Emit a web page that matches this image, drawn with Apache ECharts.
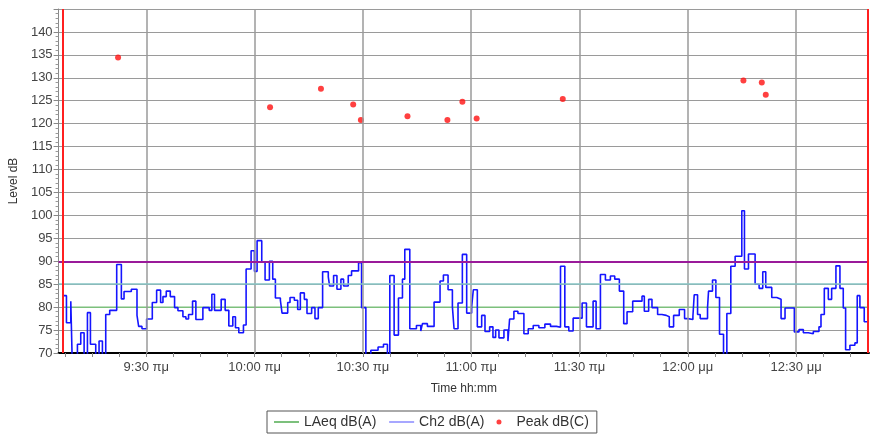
<!DOCTYPE html>
<html>
<head>
<meta charset="utf-8">
<script src="https://cdn.jsdelivr.net/npm/echarts@6/dist/echarts.min.js"></script>
<style>
  html, body { margin: 0; padding: 0; background: #fff; }
  #chart { width: 871px; height: 436px; }
</style>
</head>
<body>
<div id="chart"></div>
<script>
// Times are minutes after 09:00; each Ch2 level holds until the next time.
const ch2Minutes = [6.96, 7.88, 9.08, 9.54, 10.92, 11.84, 12.77, 13.69, 14.52, 15.99, 16.91, 17.84, 18.76, 19.86, 21.8, 23.09, 23.83, 25.85, 27.42, 27.88, 28.8, 30.09, 31.66, 32.86, 33.96, 34.61, 35.53, 36.64, 37.83, 38.76, 40.14, 40.97, 41.7, 42.81, 43.73, 45.67, 47.42, 48.16, 48.89, 50.74, 51.84, 52.86, 53.96, 54.7, 55.62, 56.91, 57.65, 59.03, 59.95, 60.69, 61.98, 62.9, 64.1, 65.02, 65.76, 67.14, 67.6, 69.17, 69.81, 71.01, 71.93, 72.67, 73.77, 74.51, 75.8, 76.72, 77.64, 78.84, 80.41, 80.78, 81.88, 82.81, 83.91, 84.65, 85.94, 86.86, 88.8, 89.63, 90.82, 92.2, 94.2, 95.7, 96.8, 97.46, 98.65, 99.85, 100.96, 101.6, 102.99, 104.83, 106.03, 106.49, 107.87, 109.72, 111.37, 112.3, 113.59, 114.79, 115.25, 116.35, 117.55, 118.75, 120.13, 120.59, 121.7, 122.9, 123.82, 125.11, 126.03, 126.77, 127.69, 129.07, 130.18, 130.64, 131.83, 132.94, 134.6, 135.8, 137.18, 138.75, 140.41, 141.97, 143.63, 144.74, 145.94, 147.04, 148.24, 150.73, 151.93, 153.77, 154.6, 155.8, 157.18, 158.56, 159.76, 161.05, 162.25, 163.17, 164.74, 167.32, 167.96, 169.16, 170.08, 171.64, 172.84, 174.04, 174.87, 176.07, 177.64, 179.11, 180.03, 181.42, 181.78, 182.71, 183.44, 185.47, 185.75, 186.85, 187.78, 188.79, 189.9, 190.82, 191.92, 193.12, 194.96, 195.7, 196.81, 198.65, 199.76, 200.77, 201.6, 203.26, 204.64, 205.84, 206.94, 209.52, 210.81, 212.01, 213.39, 214.77, 216.34, 216.9, 217.82, 218.93, 219.85, 221.04, 222.15, 223.07, 223.72, 224.91, 226.29, 226.94, 227.68, 228.88, 229.97];
const ch2Level = [82.5, 76.6, 81.3, 66, 71.9, 74.4, 66, 78.8, 71.9, 66, 72.6, 66, 78.4, 79.3, 89.3, 81.8, 83.4, 83.9, 78.2, 75.8, 75.3, 77.4, 81, 83.7, 81, 82.3, 83.5, 82.3, 79.9, 79.2, 77.9, 77.4, 78.4, 81.3, 77.3, 79.9, 79.3, 82.8, 79.3, 81.7, 79.3, 75.9, 77.9, 75.5, 74.4, 76.1, 88.3, 92.3, 87.8, 94.5, 89.9, 85.9, 90, 86.1, 82, 81.5, 78.7, 81, 82.1, 81.5, 79.5, 83.1, 81.7, 78.6, 79.9, 77.5, 79.9, 87.7, 86.6, 84.6, 86.9, 83.9, 86.1, 84.6, 86.9, 87.9, 89.7, 79.9, 66, 70.6, 71.3, 71.9, 66, 86.9, 73.9, 82, 86.1, 92.6, 75.3, 76, 74.8, 76.4, 75.8, 81.1, 85.7, 87, 83.8, 80.1, 75.3, 80.9, 91.5, 78.7, 80.1, 83.8, 75.7, 78.2, 74.7, 75.7, 73.4, 75, 73.3, 75, 72.6, 77.4, 79.1, 78.6, 74.2, 75.3, 76, 75.5, 76.3, 75.8, 75.6, 88.9, 75.7, 74.8, 77.6, 80.9, 75.7, 81.3, 75.3, 87.1, 85.9, 86.8, 86.1, 83.5, 76.4, 79, 81.3, 82.4, 79.1, 81.7, 79.9, 78.4, 78.2, 77.9, 75.7, 78.2, 79.5, 77.5, 77.3, 78, 82.7, 78.4, 77.5, 79.9, 83.5, 85.9, 82.1, 74.1, 66, 78.6, 88.9, 91.1, 101, 88.3, 91.6, 85, 84.1, 87.7, 84.3, 82.1, 81.7, 77.5, 79.8, 74.6, 75.1, 74.4, 74.2, 74.7, 75.7, 78.4, 84.1, 81.7, 84.1, 89, 84.1, 79.8, 70.7, 71.7, 72.2, 82.5, 79.9, 76.8, 76.8];

const peakMinutes = [22.18, 64.28, 78.38, 87.31, 89.44, 102.35, 113.41, 117.56, 121.51, 145.37, 195.41, 200.5, 201.6];
const peakLevel = [134.4, 123.6, 127.6, 124.2, 120.8, 121.6, 120.8, 124.8, 121.1, 125.4, 129.4, 129.0, 126.3];

const laeqLevel = 80;          // overall LAeq dB(A)
const limitLevels = [85, 90];   // reference limit lines
const runStart = 6.78;          // measurement start (minutes after 09:00)
const runEnd = 229.97;          // measurement end
const xLabelMinutes = [30, 60, 90, 120, 150, 180, 210];
const xTickMinutes = [7.5, 15, 22.5, 30, 37.5, 45, 52.5, 60, 67.5, 75, 82.5, 90, 97.5, 105, 112.5, 120, 127.5, 135, 142.5, 150, 157.5, 165, 172.5, 180, 187.5, 195, 202.5, 210, 217.5, 225];

function clockLabel(t) {
  const total = Math.round(9 * 60 + t);
  const h = Math.floor(total / 60);
  const m = total % 60;
  const suffix = h >= 12 ? 'μμ' : 'πμ';
  const hh = h > 12 ? h - 12 : h;
  return hh + ':' + (m < 10 ? '0' : '') + m + ' ' + suffix;
}

const ch2Data = ch2Minutes.map((t, i) => [t, ch2Level[i]]);
const peakData = peakMinutes.map((t, i) => [t, peakLevel[i]]);
const laeqData = [[runStart, laeqLevel], [runEnd, laeqLevel]];

const FONT = 'Liberation Sans, Arial, sans-serif';
const chart = echarts.init(document.getElementById('chart'), null, { renderer: 'canvas' });

// line-only legend keys: hide the marker that line series add to their icon
const plainLineKey = { opacity: 0, color: 'transparent', borderWidth: 0 };

chart.setOption({
  animation: false,
  backgroundColor: '#ffffff',
  grid: { left: 57, right: 2, top: 9, bottom: 83, containLabel: false },
  xAxis: {
    type: 'value',
    min: 5.7,
    max: 230.2,
    name: 'Time hh:mm',
    nameLocation: 'middle',
    nameGap: 30,
    nameTextStyle: { fontFamily: FONT, fontSize: 12, color: '#333' },
    axisLine: { show: true, onZero: false, lineStyle: { color: '#000', width: 2 } },
    axisTick: { show: true, customValues: xTickMinutes, length: 4, lineStyle: { color: '#888' } },
    axisLabel: {
      customValues: xLabelMinutes,
      formatter: v => clockLabel(v),
      fontFamily: FONT, fontSize: 13, color: '#444', margin: 8
    },
    splitLine: { show: false }
  },
  yAxis: {
    type: 'value',
    min: 70,
    max: 145,
    interval: 5,
    name: 'Level dB',
    nameLocation: 'middle',
    nameGap: 38,
    nameTextStyle: { fontFamily: FONT, fontSize: 12, color: '#333' },
    axisLine: { show: true, lineStyle: { color: '#888', width: 1 } },
    axisTick: { show: true, length: 5, lineStyle: { color: '#888' } },
    minorTick: { show: true, splitNumber: 5, length: 3, lineStyle: { color: '#999' } },
    axisLabel: {
      formatter: v => (v >= 145 ? '' : String(v)),
      fontFamily: FONT, fontSize: 13, color: '#444', margin: 6
    },
    splitLine: { show: true, lineStyle: { color: '#9a9a9a', width: 1.2 } }
  },
  legend: {
    left: 267,
    top: 411,
    orient: 'horizontal',
    borderColor: '#555',
    borderWidth: 1,
    borderRadius: 0,
    padding: [4, 8, 4, 6],
    itemWidth: 25,
    itemHeight: 5,
    itemGap: 12,
    textStyle: { fontFamily: FONT, fontSize: 14, color: '#333' },
    data: [
      { name: 'LAeq dB(A)', itemStyle: plainLineKey },
      { name: 'Ch2 dB(A)', itemStyle: plainLineKey, lineStyle: { color: '#8a8aff', width: 1.5 } },
      { name: 'Peak dB(C)', icon: 'circle' }
    ]
  },
  series: [
    {
      name: 'LAeq dB(A)',
      type: 'line',
      data: laeqData,
      symbol: 'none',
      z: 2,
      lineStyle: { color: '#7cc07c', width: 1.5 },
      itemStyle: { color: '#7cc07c' },
      markLine: {
        silent: true,
        symbol: ['none', 'none'],
        label: { show: false },
        data: [
          ...xLabelMinutes.map(t => ({ xAxis: t, lineStyle: { color: '#9a9a9a', width: 1.5, type: 'solid' } })),
          { yAxis: limitLevels[0], lineStyle: { color: '#86c4c4', width: 1.5, type: 'solid' } },
          { yAxis: limitLevels[1], lineStyle: { color: '#9a1a9a', width: 2, type: 'solid' } },
          { xAxis: runStart, lineStyle: { color: '#ff2020', width: 2, type: 'solid' } },
          { xAxis: runEnd, lineStyle: { color: '#ff2020', width: 2, type: 'solid' } }
        ]
      }
    },
    {
      name: 'Ch2 dB(A)',
      type: 'line',
      step: 'end',
      data: ch2Data,
      symbol: 'none',
      clip: true,
      z: 3,
      lineStyle: { color: '#1515ff', width: 1.6 },
      itemStyle: { color: '#1515ff' }
    },
    {
      name: 'Peak dB(C)',
      type: 'scatter',
      data: peakData,
      symbol: 'circle',
      symbolSize: 6,
      z: 4,
      itemStyle: { color: '#ff1010' }
    }
  ]
});
</script>
</body>
</html>
